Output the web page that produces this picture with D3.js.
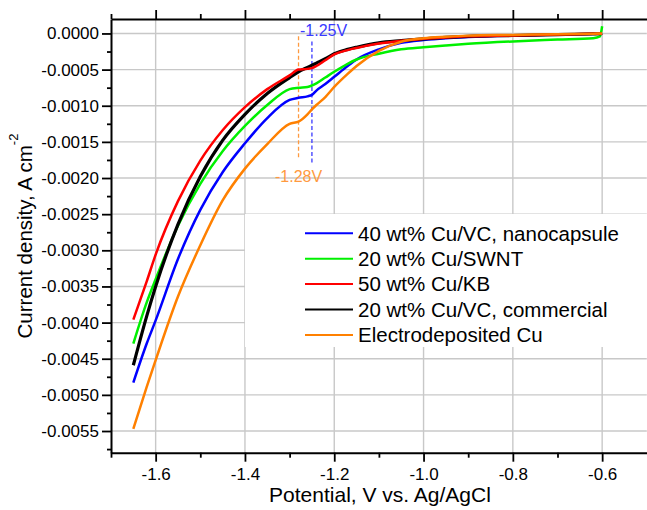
<!DOCTYPE html>
<html>
<head>
<meta charset="utf-8">
<script src="https://cdn.jsdelivr.net/npm/d3@7"></script>
<style>
  body { margin: 0; background: #fff; }
  svg { display: block; font-family: "Liberation Sans", Arial, sans-serif; }
</style>
</head>
<body>
<div id="chart"></div>
<script>
// Linear sweep voltammetry, current density vs potential
const potentials = [-1.65, -1.62, -1.60, -1.55, -1.50, -1.45, -1.40, -1.35, -1.30, -1.28, -1.26, -1.25, -1.24,
  -1.22, -1.20, -1.17, -1.15, -1.10, -1.05, -1.00, -0.95, -0.90, -0.80, -0.70, -0.62, -0.605, -0.60];

const nanocapsule = [-0.00483, -0.00429, -0.00397, -0.00312, -0.00244, -0.00192, -0.00152, -0.00117, -0.00092,
  -0.00089, -0.00087, -0.00085, -0.00079, -0.00070, -0.00060, -0.00045, -0.00036, -0.00022, -0.00013, -0.00009,
  -0.000065, -0.00005, -0.00003, -0.000015, -0.000005, -0.000003, 0];
const swnt = [-0.00429, -0.00372, -0.00340, -0.00266, -0.00208, -0.00163, -0.00128, -0.00099, -0.00077, -0.00075,
  -0.00074, -0.00072, -0.00069, -0.00061, -0.00053, -0.00042, -0.00036, -0.00028, -0.00022, -0.00019, -0.000165,
  -0.000143, -0.00011, -0.000085, -0.000065, -0.00004, 0.0001];
const kb = [-0.00396, -0.00343, -0.00306, -0.00232, -0.00176, -0.00134, -0.00102, -0.00077, -0.00058, -0.00050,
  -0.00049, -0.00048, -0.00045, -0.00037, -0.00029, -0.00023, -0.00020, -0.00014, -0.00010, -0.000075, -0.000055,
  -0.00004, -0.000028, -0.000015, -0.000005, -0.000003, 0];
const commercial = [-0.00459, -0.00391, -0.00350, -0.00264, -0.00198, -0.00148, -0.00112, -0.00083, -0.00061,
  -0.00053, -0.00047, -0.00044, -0.00041, -0.00035, -0.00028, -0.00022, -0.00019, -0.00013, -0.00010, -0.000075,
  -0.000055, -0.00004, -0.000028, -0.000015, -0.000006, -0.000004, 0];
const electrodeposited = [-0.00547, -0.00489, -0.00452, -0.00364, -0.00293, -0.00231, -0.00187, -0.00153, -0.00125,
  -0.00122, -0.00112, -0.00105, -0.00099, -0.00088, -0.00074, -0.00056, -0.00045, -0.00024, -0.000115, -0.000066,
  -0.000045, -0.00003, -0.00002, -0.00001, -0.000003, -0.000001, 0];

const seriesLabels = ['40 wt% Cu/VC, nanocapsule', '20 wt% Cu/SWNT', '50 wt% Cu/KB', '20 wt% Cu/VC, commercial',
  'Electrodeposited Cu'];
const seriesValues = [nanocapsule, swnt, kb, commercial, electrodeposited];
const seriesColors = ['#0000ff', '#00f000', '#ff0000', '#000000', '#ff8000'];
const drawOrder = [0, 1, 3, 2, 4];

const xMajor = [-1.6, -1.4, -1.2, -1.0, -0.8, -0.6];
const xMinor = [-1.7, -1.5, -1.3, -1.1, -0.9, -0.7];
const yMajor = [0, -0.0005, -0.001, -0.0015, -0.002, -0.0025, -0.003, -0.0035, -0.004, -0.0045, -0.005, -0.0055];
const yMinor = [-0.00025, -0.00075, -0.00125, -0.00175, -0.00225, -0.00275, -0.00325, -0.00375, -0.00425,
  -0.00475, -0.00525, -0.00575];

// peak markers: potential, top and bottom of the dashed line, label position
const markers = [
  { v: -1.28, top: -0.00004, bottom: -0.00173, label: '-1.28V', color: '#ff9a40', labelV: -1.28, labelAt: -0.00206 },
  { v: -1.25, top: -0.00011, bottom: -0.0018, label: '-1.25V', color: '#3a3aff', labelV: -1.224, labelAt: -0.00004 },
];

const width = 647;
const height = 510;

const x = d3.scaleLinear().domain([-1.7, -0.5]).range([111, 646.8]);
const y = d3.scaleLinear().domain([-0.0058, 0.0002]).range([452.7, 19]);

const svg = d3.select('#chart').append('svg').attr('width', width).attr('height', height);
svg.append('rect').attr('width', width).attr('height', height).attr('fill', '#fff');

// grid
const grid = svg.append('g').attr('stroke', '#c8c8c8').attr('stroke-width', 1.4);
xMajor.forEach(v => {
  grid.append('line').attr('x1', x(v)).attr('x2', x(v)).attr('y1', y.range()[1]).attr('y2', y.range()[0]);
});
yMajor.forEach(v => {
  grid.append('line').attr('x1', x.range()[0]).attr('x2', x.range()[1]).attr('y1', y(v)).attr('y2', y(v));
});

// legend background hides the grid
svg.append('rect').attr('x', 245).attr('y', 214).attr('width', 420).attr('height', 133).attr('fill', '#fff');

// dashed markers
markers.forEach(m => {
  svg.append('line')
    .attr('x1', x(m.v)).attr('x2', x(m.v))
    .attr('y1', y(m.top)).attr('y2', y(m.bottom))
    .attr('stroke', m.color)
    .attr('stroke-width', 1.3)
    .attr('stroke-dasharray', '4 2.5');
});

// curves
const line = d3.line()
  .x((d, i) => x(potentials[i]))
  .y(d => y(d))
  .curve(d3.curveMonotoneX);

drawOrder.forEach(i => {
  svg.append('path')
    .attr('d', line(seriesValues[i]))
    .attr('fill', 'none')
    .attr('stroke', seriesColors[i])
    .attr('stroke-width', i === 3 ? 3.2 : 2.5)
    .attr('stroke-linejoin', 'round');
});

// marker labels
markers.forEach(m => {
  svg.append('text')
    .attr('x', x(m.labelV)).attr('y', y(m.labelAt))
    .attr('text-anchor', 'middle')
    .attr('font-size', 16)
    .attr('fill', m.color)
    .text(m.label);
});

// axes
function styleAxis(a) {
  a.attr('font-family', null).attr('font-size', 17);
  a.select('.domain').attr('stroke', '#000').attr('stroke-width', 2);
  a.selectAll('.tick line').attr('stroke', '#000').attr('stroke-width', 1.8);
  a.selectAll('.tick text').attr('fill', '#000');
}

svg.append('g')
  .attr('transform', `translate(0,${y.range()[0]})`)
  .call(d3.axisBottom(x).tickValues(xMajor).tickFormat(d => d.toFixed(1)).tickSize(9).tickSizeOuter(0).tickPadding(6))
  .call(styleAxis);
svg.append('g')
  .attr('transform', `translate(0,${y.range()[0]})`)
  .call(d3.axisBottom(x).tickValues(xMinor).tickFormat('').tickSize(5))
  .call(styleAxis)
  .call(a => a.select('.domain').remove());

svg.append('g')
  .attr('transform', `translate(0,${y.range()[1]})`)
  .call(d3.axisTop(x).tickValues(xMajor).tickFormat('').tickSize(9).tickSizeOuter(0))
  .call(styleAxis);
svg.append('g')
  .attr('transform', `translate(0,${y.range()[1]})`)
  .call(d3.axisTop(x).tickValues(xMinor).tickFormat('').tickSize(5))
  .call(styleAxis)
  .call(a => a.select('.domain').remove());

svg.append('g')
  .attr('transform', `translate(${x.range()[0]},0)`)
  .call(d3.axisLeft(y).tickValues(yMajor).tickFormat(d => d.toFixed(4)).tickSize(9).tickSizeOuter(0).tickPadding(3))
  .call(styleAxis);
svg.append('g')
  .attr('transform', `translate(${x.range()[0]},0)`)
  .call(d3.axisLeft(y).tickValues(yMinor).tickFormat('').tickSize(4))
  .call(styleAxis)
  .call(a => a.select('.domain').remove());

// axis titles
svg.append('text')
  .attr('x', 380).attr('y', 502)
  .attr('text-anchor', 'middle')
  .attr('font-size', 21)
  .text('Potential, V vs. Ag/AgCl');

const yTitle = svg.append('text')
  .attr('transform', 'translate(31.5,236) rotate(-90)')
  .attr('text-anchor', 'middle')
  .attr('font-size', 20.5);
yTitle.append('tspan').text('Current density, A cm');
yTitle.append('tspan').attr('font-size', 13).attr('dy', -14).text('-2');

// legend
const legend = svg.append('g').attr('transform', 'translate(305,233.3)');
seriesLabels.forEach((label, i) => {
  const row = legend.append('g').attr('transform', `translate(0,${i * 25.4})`);
  row.append('line')
    .attr('x1', 0).attr('x2', 48)
    .attr('stroke', seriesColors[i])
    .attr('stroke-width', 2);
  row.append('text')
    .attr('x', 53).attr('y', 7.3)
    .attr('font-size', 20.5)
    .text(label);
});
</script>
</body>
</html>
